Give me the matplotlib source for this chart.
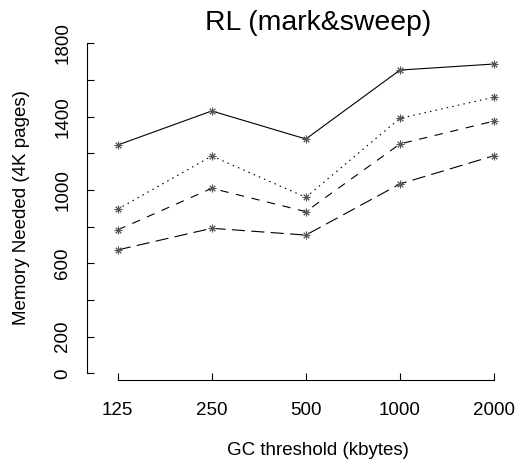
import matplotlib
matplotlib.use("Agg")
import matplotlib.pyplot as plt

plt.rcParams['font.family'] = ['Liberation Sans', 'DejaVu Sans']
plt.rcParams['lines.scale_dashes'] = False

# data
thresholds = ["125", "250", "500", "1000", "2000"]
series_a = [1245, 1431, 1278, 1654, 1687]   # solid
series_b = [895, 1185, 960, 1391, 1506]     # dotted
series_c = [782, 1009, 882, 1251, 1376]     # dashed
series_d = [673, 791, 754, 1033, 1187]      # long dash
y_ticks = [0, 200, 400, 600, 800, 1000, 1200, 1400, 1600, 1800]
y_ticklabels = ["0", "200", "", "600", "", "1000", "", "1400", "", "1800"]

W, H = 521, 466
fig = plt.figure(figsize=(W / 100, H / 100), dpi=100)

# axes box in pixels (left, top, right, bottom)
L, T, R, B = 87.3, 36.0, 548.7, 380.0
ax = fig.add_axes([L / W, 1 - B / H, (R - L) / W, (B - T) / H])

pos = list(range(len(thresholds)))
styles = [
    (series_a, '-'),
    (series_b, (0, (1.1, 3.0))),
    (series_c, (0, (6.0, 5.5))),
    (series_d, (0, (9.5, 4.5))),
]
for vals, ls in styles:
    ax.plot(pos, vals, color='black', linestyle=ls, linewidth=0.8,
            marker=(8, 2, 0), markersize=5.5, markeredgewidth=0.7,
            markeredgecolor='#555555')

ax.set_xlim(-0.323, 4.581)
ax.set_ylim(-36.5, 1839.8)

for s in ['top', 'right']:
    ax.spines[s].set_visible(False)
ax.spines['left'].set_bounds(0, 1800)
ax.spines['bottom'].set_bounds(0, 4)
for s in ['left', 'bottom']:
    ax.spines[s].set_linewidth(0.8)

ax.set_xticks(pos)
ax.set_xticklabels(thresholds)
ax.set_yticks(y_ticks)
ax.set_yticklabels(y_ticklabels, rotation=90, va='center')
ax.tick_params(axis='both', direction='in', length=5, width=0.8, labelsize=13.5)
ax.tick_params(axis='x', pad=16)
ax.tick_params(axis='y', pad=11.5)

ax.set_title("RL (mark&sweep)", fontsize=20.4, pad=3)
fig.text((L + R) / 2 / W, 1 - 455 / H, "GC threshold (kbytes)",
         ha='center', va='baseline', fontsize=13.5)
fig.text(22 / W, 1 - (B + T) / 2 / H, "Memory Needed (4K pages)",
         ha='center', va='center', rotation=90, fontsize=13.5)

fig.savefig("out.png", dpi=100)
